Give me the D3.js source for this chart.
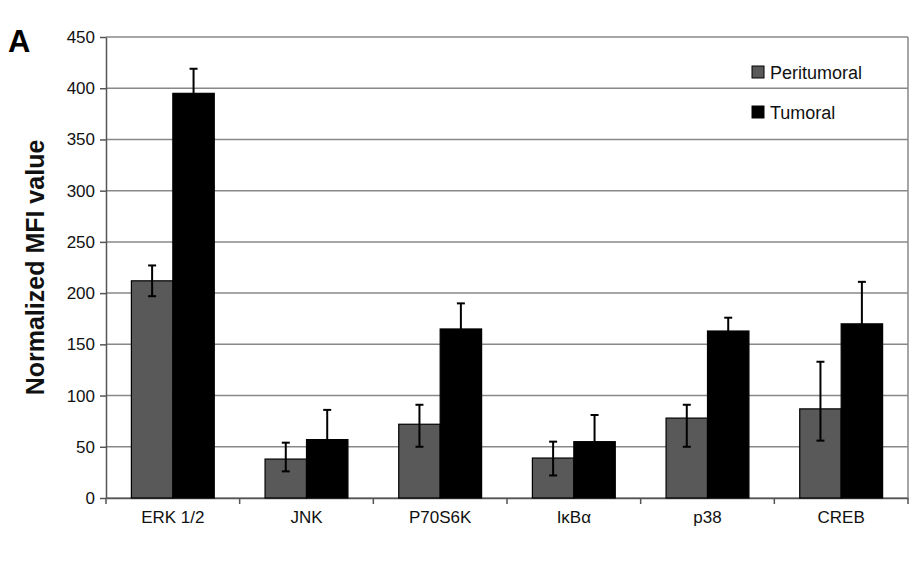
<!DOCTYPE html>
<html><head><meta charset="utf-8">
<script src="https://cdn.jsdelivr.net/npm/d3@7"></script>
<style>body{margin:0;background:#fff;font-family:"Liberation Sans",Arial,sans-serif;}</style>
</head><body>
<svg id="chart" width="923" height="564"></svg>
<script>
let categories = ["ERK 1/2", "JNK", "P70S6K", "I\u03baB\u03b1", "p38", "CREB"];
let peri = [212, 38, 72, 39, 78, 87];
let periErr = [15, 16, 19, 16, 13, 46];
let tum = [395, 57, 165, 55, 163, 170];
let tumErr = [24, 29, 25, 26, 13, 41];
let periLow = [15, 12, 22, 17, 28, 31];
let yTicks = [0, 50, 100, 150, 200, 250, 300, 350, 400, 450];

let svg = d3.select('#chart');
let pLeft = 106, pRight = 908, pTop = 37, pBottom = 498;

let x = d3.scaleBand().domain(categories).range([pLeft, pRight]).paddingInner(0.38).paddingOuter(0.19);
let y = d3.scaleLinear().domain([0, 450]).range([pBottom, pTop]);
let bw = x.bandwidth() / 2;

// gridlines
svg.append('g').selectAll('line').data(yTicks).enter().append('line')
    .attr('x1', pLeft).attr('x2', pRight)
    .attr('y1', d => y(d)).attr('y2', d => y(d))
    .attr('stroke', '#888').attr('stroke-width', 1.5);
svg.append('line').attr('x1', pRight).attr('x2', pRight).attr('y1', pTop).attr('y2', pBottom)
    .attr('stroke', '#888').attr('stroke-width', 1.5);

let yAxis = svg.append('g').attr('transform', 'translate(' + pLeft + ',0)')
    .call(d3.axisLeft(y).tickValues(yTicks).tickSize(6).tickSizeOuter(0));
yAxis.selectAll('text').attr('font-size', '17px').attr('fill', '#111').attr('dx', '-2');
yAxis.selectAll('line, path').attr('stroke', '#555').attr('stroke-width', 1.5);

let xAxis = svg.append('g').attr('transform', 'translate(0,' + pBottom + ')')
    .call(d3.axisBottom(x).tickSize(0));
xAxis.selectAll('text').attr('font-size', '17px').attr('fill', '#111').attr('dy', '1.3em');
xAxis.select('path').attr('stroke', '#555').attr('stroke-width', 1.5);
// tick marks between groups
let step = x.step();
xAxis.selectAll('.sep').data(d3.range(categories.length + 1)).enter().append('line')
    .attr('x1', i => pLeft + i * step).attr('x2', i => pLeft + i * step)
    .attr('y1', 0).attr('y2', 6).attr('stroke', '#555').attr('stroke-width', 1.5);

function drawBars(vals, errUp, errLow, offset, color) {
    let g = svg.append('g');
    g.selectAll('rect').data(vals).enter().append('rect')
        .attr('x', (d, i) => x(categories[i]) + offset)
        .attr('y', d => y(d)).attr('width', bw).attr('height', d => pBottom - y(d))
        .attr('fill', color).attr('stroke', '#000').attr('stroke-width', 1.2);
    let e = svg.append('g').attr('stroke', '#000').attr('stroke-width', 2);
    vals.forEach((d, i) => {
        let cx = x(categories[i]) + offset + bw / 2;
        e.append('line').attr('x1', cx).attr('x2', cx).attr('y1', y(d + errUp[i])).attr('y2', y(d - errLow[i]));
        e.append('line').attr('x1', cx - 4).attr('x2', cx + 4).attr('y1', y(d + errUp[i])).attr('y2', y(d + errUp[i]));
        e.append('line').attr('x1', cx - 4).attr('x2', cx + 4).attr('y1', y(d - errLow[i])).attr('y2', y(d - errLow[i]));
    });
}
drawBars(peri, periErr, periLow, 0, '#595959');
drawBars(tum, tumErr, tumErr, bw, '#000');

// legend
let legend = [["Peritumoral", '#595959'], ["Tumoral", '#000']];
let lg = svg.append('g');
legend.forEach((l, i) => {
    lg.append('rect').attr('x', 752).attr('y', 66 + i * 40).attr('width', 12).attr('height', 12)
        .attr('fill', l[1]).attr('stroke', '#000');
    lg.append('text').attr('x', 770).attr('y', 79 + i * 40).attr('font-size', '18px').attr('fill', '#111').text(l[0]);
});

svg.append('text').attr('transform', 'translate(44,' + (pTop + pBottom) / 2 + ') rotate(-90)')
    .attr('text-anchor', 'middle').attr('font-size', '25px').attr('font-weight', 'bold').attr('fill', '#111')
    .text('Normalized MFI value');
svg.append('text').attr('x', 8).attr('y', 52).attr('font-size', '31px').attr('font-weight', 'bold').text('A');
</script>
</body></html>
